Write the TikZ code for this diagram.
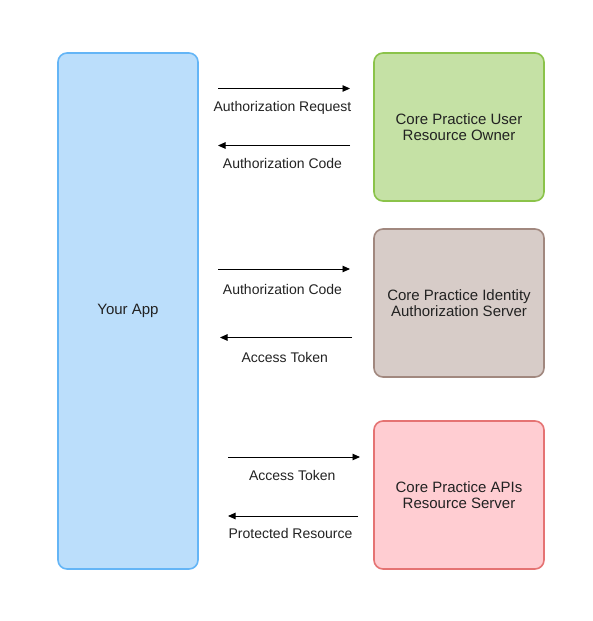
\documentclass[tikz,border=0pt]{standalone}
\usepackage{fontspec}
\setmainfont{Liberation Sans}
\usetikzlibrary{arrows.meta}
\definecolor{bluefill}{HTML}{BBDEFB}
\definecolor{blueline}{HTML}{64B5F6}
\definecolor{greenfill}{HTML}{C5E1A5}
\definecolor{greenline}{HTML}{8BC34A}
\definecolor{brownfill}{HTML}{D7CCC8}
\definecolor{brownline}{HTML}{A1887F}
\definecolor{redfill}{HTML}{FFCDD2}
\definecolor{redline}{HTML}{E57373}
\definecolor{txt}{HTML}{222222}
\tikzset{
  box/.style={rounded corners=9pt, line width=1.6pt, inner sep=0pt, align=center,
    font=\fontsize{15pt}{16pt}\selectfont, text=txt},
  msg/.style={-{Triangle[length=7.5pt,width=6.5pt]}, line width=0.9pt},
  lbl/.style={font=\fontsize{14pt}{16pt}\selectfont, text=txt, inner sep=0pt, anchor=base}
}
\begin{document}
\begin{tikzpicture}[x=1pt,y=-1pt]
\useasboundingbox (0,0) rectangle (592,621);
\node[box, draw=blueline, fill=bluefill, minimum width=140pt, minimum height=516pt] (app) at (128,311) {Your App};
\node[box, draw=greenline, fill=greenfill, minimum width=170pt, minimum height=148pt] (owner) at (459,127) {Core Practice User\\Resource Owner};
\node[box, draw=brownline, fill=brownfill, minimum width=170pt, minimum height=148pt] (auth) at (459,303) {Core Practice Identity\\Authorization Server};
\node[box, draw=redline, fill=redfill, minimum width=170pt, minimum height=148pt] (api) at (459,495) {Core Practice APIs\\Resource Server};

\coordinate (a1s) at (218,88.5);  \coordinate (a1e) at (350,88.5);
\coordinate (a2s) at (350,145.5); \coordinate (a2e) at (218,145.5);
\coordinate (a3s) at (218,269); \coordinate (a3e) at (350,269);
\coordinate (a4s) at (352,337.5); \coordinate (a4e) at (220,337.5);
\coordinate (a5s) at (228,457); \coordinate (a5e) at (360,457);
\coordinate (a6s) at (358,516); \coordinate (a6e) at (228,516);

\draw[msg] (a1s) -- (a1e);
\draw[msg] (a2s) -- (a2e);
\draw[msg] (a3s) -- (a3e);
\draw[msg] (a4s) -- (a4e);
\draw[msg] (a5s) -- (a5e);
\draw[msg] (a6s) -- (a6e);

\node[lbl] (l1) at (282.5,111) {Authorization Request};
\node[lbl] (l2) at (282.5,168.3) {Authorization Code};
\node[lbl] (l3) at (282.5,294) {Authorization Code};
\node[lbl] (l4) at (284.8,362.3) {Access Token};
\node[lbl] (l5) at (292.2,480) {Access Token};
\node[lbl] (l6) at (290.5,538.3) {Protected Resource};
\end{tikzpicture}
\end{document}
